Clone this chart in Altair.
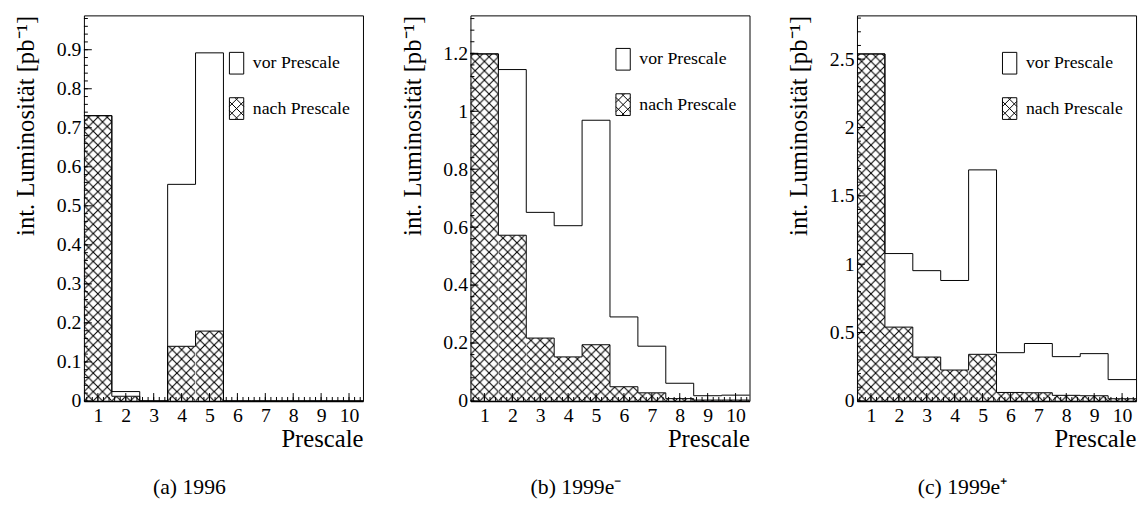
import altair as alt
import pandas as pd
from urllib.parse import quote

# ---------------- data ----------------
prescale = [1, 2, 3, 4, 5, 6, 7, 8, 9, 10]
series = ["vor Prescale", "nach Prescale"]

vor_1996 = [0.731, 0.024, 0.0, 0.555, 0.892, 0.0, 0.0, 0.0, 0.0, 0.0]
nach_1996 = [0.731, 0.012, 0.0, 0.140, 0.179, 0.0, 0.0, 0.0, 0.0, 0.0]

vor_1999em = [1.198, 1.144, 0.651, 0.605, 0.969, 0.290, 0.189, 0.061, 0.018, 0.020]
nach_1999em = [1.198, 0.572, 0.217, 0.152, 0.194, 0.049, 0.028, 0.008, 0.003, 0.003]

vor_1999ep = [2.538, 1.078, 0.953, 0.881, 1.690, 0.353, 0.420, 0.324, 0.346, 0.156]
nach_1999ep = [2.538, 0.540, 0.321, 0.226, 0.341, 0.062, 0.060, 0.041, 0.038, 0.016]

ylabels_1996 = [0, 0.1, 0.2, 0.3, 0.4, 0.5, 0.6, 0.7, 0.8, 0.9]
ylabels_1999em = [0, 0.2, 0.4, 0.6, 0.8, 1.0, 1.2]
ylabels_1999ep = [0, 0.5, 1.0, 1.5, 2.0, 2.5]

captions = ["(a) 1996", "(b) 1999e\u207b", "(c) 1999e\u207a"]

# ---------------- style ----------------
FONT = "Liberation Serif, Times New Roman, Times, serif"
W, H = 283, 391
TILE = W / 10 / 3

hatch_svg = (
    "<svg xmlns='http://www.w3.org/2000/svg' width='100%' height='100%'>"
    "<defs><pattern id='h' patternUnits='userSpaceOnUse' x='0' y='100%' "
    f"width='{TILE:.4f}' height='{TILE:.4f}'>"
    f"<path d='M0,0L{TILE:.4f},{TILE:.4f}M{TILE:.4f},0L0,{TILE:.4f}' "
    "stroke='black' stroke-width='1.1' fill='none'/></pattern></defs>"
    "<rect width='100%' height='100%' fill='url(#h)'/></svg>"
)
HATCH_URL = "data:image/svg+xml;charset=utf-8," + quote(hatch_svg)


def rect_path(hw, hh):
    return f"M{-hw},{-hh}H{hw}V{hh}H{-hw}Z"


def hatch_lines(hw, hh, step):
    segs = []
    n = int((hw + hh) / step) + 1
    for k in range(-n, n + 1):
        c = k * step
        x0, x1 = max(-hw, -hh - c), min(hw, hh - c)
        if x1 - x0 > 1e-6:
            segs.append(f"M{x0:.3f},{x0 + c:.3f}L{x1:.3f},{x1 + c:.3f}")
        x0, x1 = max(-hw, c - hh), min(hw, c + hh)
        if x1 - x0 > 1e-6:
            segs.append(f"M{x0:.3f},{-x0 + c:.3f}L{x1:.3f},{-x1 + c:.3f}")
    return "".join(segs)


SYM_R = 11.0
BOX = rect_path(0.66, 1.0)
BOX_HATCH = BOX + hatch_lines(0.66, 1.0, TILE / SYM_R)


def minor(step, top):
    out, i = [], 0
    while i * step <= top + 1e-9:
        out.append(round(i * step, 4))
        i += 1
    return out


x_minor = [round(0.6 + 0.2 * i, 2) for i in range(50) if 0.6 + 0.2 * i < 10.5]


def panel(vor, nach, ymax, ylabels, ystep_minor, legend_y, caption):
    bars = pd.DataFrame({"prescale": prescale, "vor": vor, "nach": nach})
    edges = [p - 0.5 for p in prescale] + [prescale[-1] + 0.5]
    steps = pd.DataFrame({"edge": edges, "vor": vor + [vor[-1]], "nach": nach + [nach[-1]]})

    xs = alt.Scale(domain=[0.5, 10.5], nice=False, zero=False)
    ys = alt.Scale(domain=[0, ymax], nice=False, zero=True)
    xaxis = alt.Axis(
        values=prescale, format="d", title="Prescale", grid=False, ticks=False, tickSize=0,
        domain=True, domainColor="black", domainWidth=1.5,
        labelFont=FONT, labelFontSize=20, labelColor="black", labelPadding=5, labelFlush=False,
        titleFont=FONT, titleFontSize=25, titleFontWeight="normal", titleColor="black",
        titleAnchor="end", titlePadding=1,
    )
    yaxis = alt.Axis(
        values=ylabels, format="~g", title="int. Luminosit\u00e4t [pb\u207b\u00b9]", grid=False,
        ticks=False, tickSize=0, domain=False,
        labelFont=FONT, labelFontSize=20, labelColor="black", labelPadding=3,
        titleFont=FONT, titleFontSize=25, titleFontWeight="normal", titleColor="black",
        titleAnchor="end", titlePadding=18,
    )
    X = lambda f: alt.X(f, scale=xs, axis=xaxis)
    Y = lambda f: alt.Y(f, scale=ys, axis=yaxis)

    hatch = alt.Chart(bars).transform_calculate(
        lo="datum.prescale - 0.5", hi="datum.prescale + 0.5"
    ).mark_image(aspect=False).encode(
        x=X("lo:Q"), x2="hi:Q", y=Y("nach:Q"), y2=alt.datum(0), url=alt.value(HATCH_URL)
    )
    nach_line = alt.Chart(steps).mark_line(
        interpolate="step-after", color="black", strokeWidth=1
    ).encode(x=X("edge:Q"), y=Y("nach:Q"))
    vor_line = alt.Chart(steps).mark_line(
        interpolate="step-after", color="black", strokeWidth=1
    ).encode(x=X("edge:Q"), y=Y("vor:Q"))

    ymaj = pd.DataFrame({"t": ylabels})
    ymin = pd.DataFrame({"t": minor(ystep_minor, ymax)})
    xmaj = pd.DataFrame({"t": prescale})
    xmin = pd.DataFrame({"t": x_minor})
    ytick_major = alt.Chart(ymaj).mark_rule(color="black", strokeWidth=1).encode(
        y=Y("t:Q"), x=alt.value(0), x2=alt.value(8))
    ytick_minor = alt.Chart(ymin).mark_rule(color="black", strokeWidth=1).encode(
        y=Y("t:Q"), x=alt.value(0), x2=alt.value(4))
    xtick_major = alt.Chart(xmaj).mark_rule(color="black", strokeWidth=1).encode(
        x=X("t:Q"), y=alt.value(H), y2=alt.value(H - 8))
    xtick_minor = alt.Chart(xmin).mark_rule(color="black", strokeWidth=1).encode(
        x=X("t:Q"), y=alt.value(H), y2=alt.value(H - 4))

    legend = alt.Chart(pd.DataFrame({"series": series})).mark_point(
        opacity=0, filled=False
    ).encode(
        shape=alt.Shape(
            "series:N",
            scale=alt.Scale(domain=series, range=[BOX, BOX_HATCH]),
            legend=alt.Legend(
                title=None, orient="none", legendX=143.3, legendY=legend_y, padding=0,
                symbolSize=(2 * SYM_R) ** 2, symbolStrokeColor="black", symbolFillColor="white",
                symbolStrokeWidth=1, symbolOpacity=1,
                labelFont=FONT, labelFontSize=18, labelColor="black", labelOffset=5,
                rowPadding=19, labelLimit=0,
            ),
        )
    )

    return alt.layer(
        hatch, nach_line, vor_line, ytick_minor, ytick_major, xtick_minor, xtick_major, legend
    ).properties(
        width=W, height=H,
        title=alt.TitleParams(
            caption, orient="bottom", anchor="middle", frame="bounds", font=FONT,
            fontSize=22, fontWeight="normal", color="black", offset=26,
        ),
    )


p1 = panel(vor_1996, nach_1996, 0.988, ylabels_1996, 0.02, 37, captions[0])
p2 = panel(vor_1999em, nach_1999em, 1.331, ylabels_1999em, 0.04, 33, captions[1])
p3 = panel(vor_1999ep, nach_1999ep, 2.82, ylabels_1999ep, 0.1, 37, captions[2])

chart = alt.hconcat(p1, p2, p3, spacing=109, bounds="flush").resolve_scale(
    shape="independent"
).configure_view(stroke="black", strokeWidth=1).properties(
    padding={"left": 5, "top": 3, "right": 0, "bottom": 0}
)

chart.save("out.html", embed_options={"renderer": "svg", "actions": False})
